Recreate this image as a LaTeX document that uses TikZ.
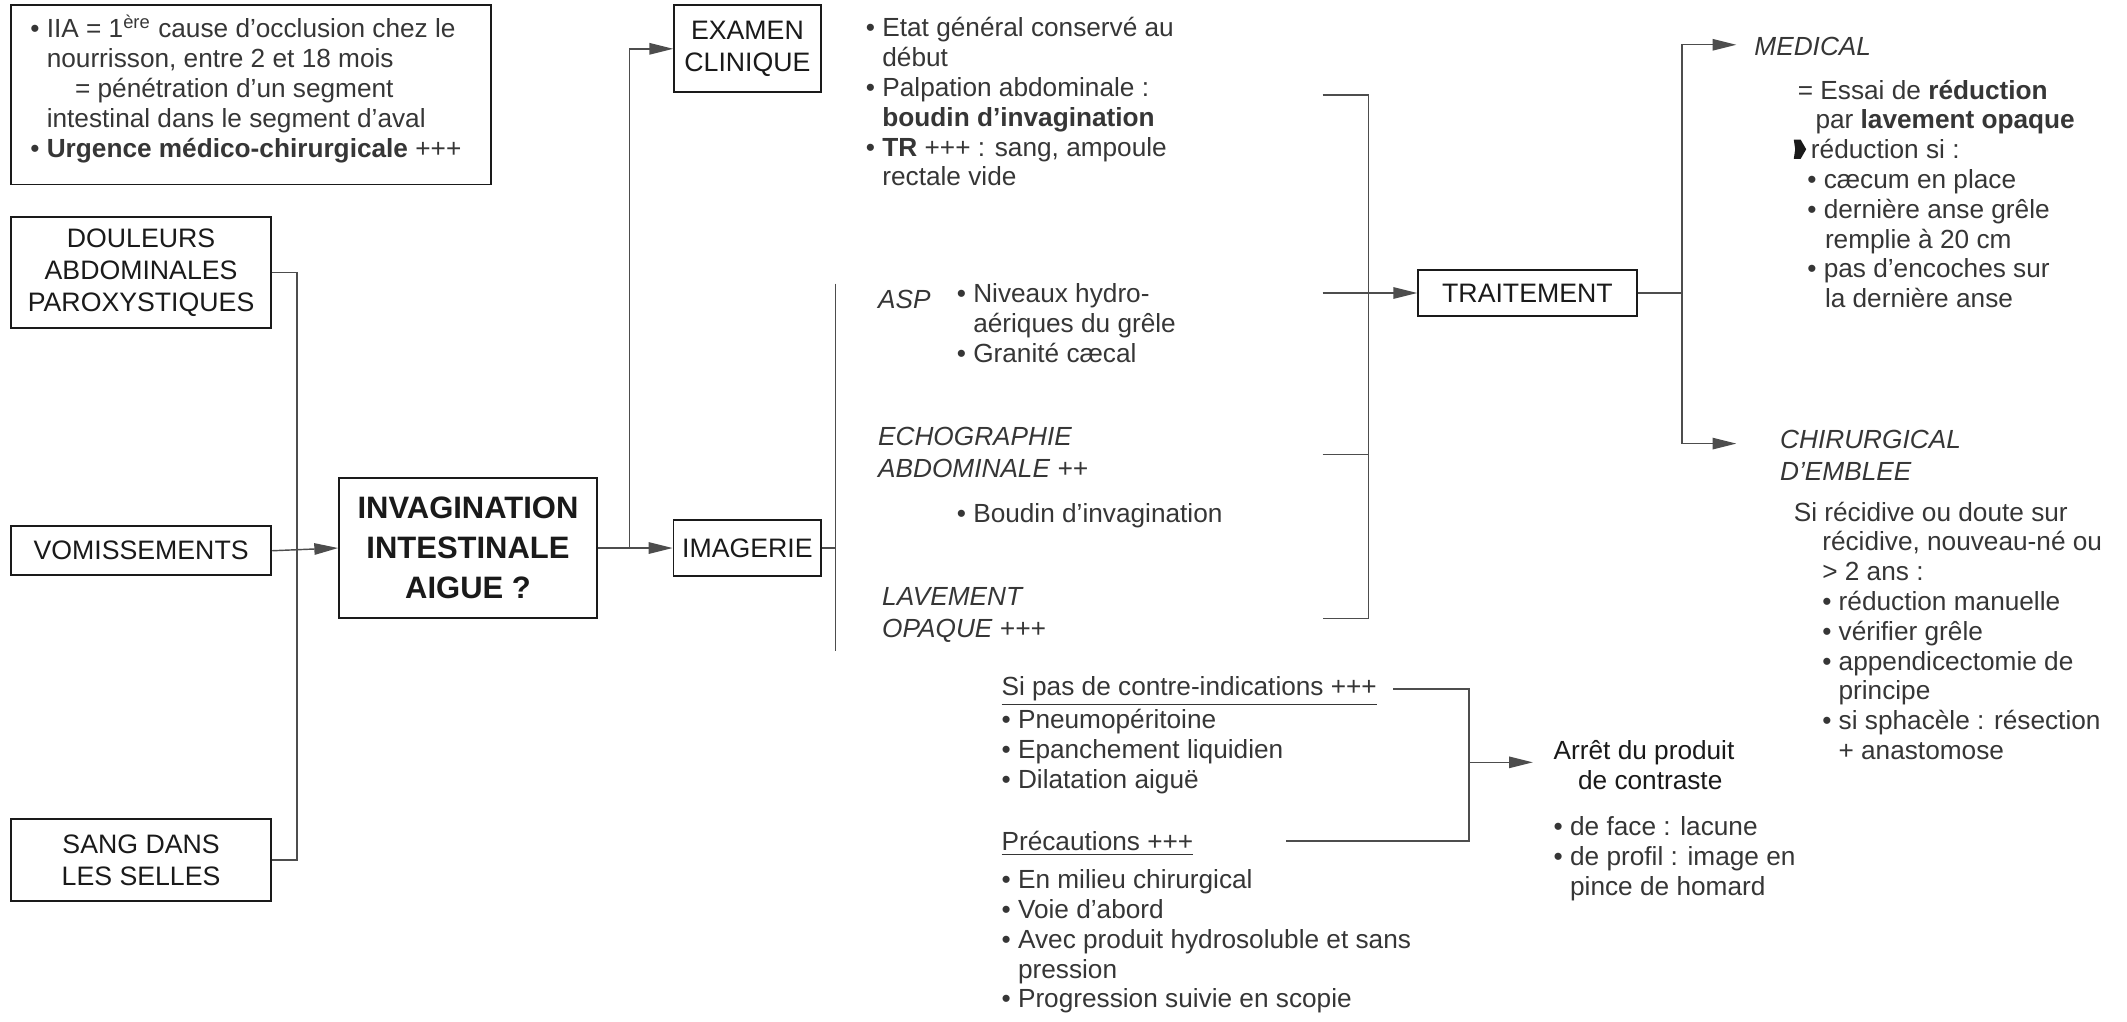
\documentclass[tikz,border=0pt]{standalone}
\usepackage{fontspec}
\setmainfont{Liberation Sans}
\usetikzlibrary{arrows.meta}
\definecolor{txtc}{HTML}{363636}
\definecolor{labc}{HTML}{1A1A1A}
\definecolor{linec}{HTML}{4D4D4D}
\newcommand\bodyfont{\fontsize{11}{12.5}\selectfont}
\newcommand\labfont{\fontsize{11.2}{13.3}\selectfont}
\newcommand\bigfont{\fontsize{13}{16.7}\selectfont\bfseries}
\newcommand\bul{\textbullet\ }
\newcommand\ind{\hphantom{\textbullet\ }}
\newcommand\hx[1]{\hspace*{\dimexpr0.02cm*#1\relax}}
% small black pointer used before "réduction si"
\newcommand\pointer{\tikz[x=1pt,y=1pt,baseline=0pt]\fill[labc] (0,0) -- (2.9,0) -- (5.2,4) -- (2.9,8) -- (0,8) -- (0.6,4) -- cycle;}

\begin{document}
\begin{tikzpicture}[x=0.02cm,y=-0.02cm,
  box/.style={draw=labc, line width=0.8pt, inner sep=0pt, align=center, font=\labfont, text=labc},
  txt/.style={anchor=north west, inner sep=0pt, align=left, font=\bodyfont, text=txtc,
              execute at begin node={\rule{0pt}{1em}}},
  conn/.style={draw=linec, line width=0.6pt},
  arr/.style={conn, -{Triangle[length=10pt, width=4.8pt]}},
]
\fill[white] (0,0) rectangle (1568,753);
\useasboundingbox (0,0) rectangle (1568,753);

% ---------- left column ----------
\node[box, minimum width=354*0.02cm, minimum height=132*0.02cm] (info) at (185,70) {};
\node[txt] (infot) at (22,10.6) {\bul IIA = 1\textsuperscript{ère} cause d’occlusion chez le\\
  \ind nourrisson, entre 2 et 18 mois\\
  \hx{33}= pénétration d’un segment\\
  \ind intestinal dans le segment d’aval\\
  \bul\textbf{Urgence médico-chirurgicale} +++};

\node[box, minimum width=192*0.02cm, minimum height=82*0.02cm] (doul) at (104,201)
  {DOULEURS\\ABDOMINALES\\PAROXYSTIQUES};
\node[box, minimum width=192*0.02cm, minimum height=36*0.02cm] (vom) at (104,406) {VOMISSEMENTS};
\node[box, minimum width=192*0.02cm, minimum height=61*0.02cm] (sang) at (104,634)
  {SANG DANS\\LES SELLES};
\node[box, font=\bigfont, minimum width=190*0.02cm, minimum height=103*0.02cm] (inv) at (345,404)
  {INVAGINATION\\INTESTINALE\\AIGUE ?};

\coordinate (jl) at (219,406);
\draw[conn] (doul.east) -| (jl);
\draw[conn] (sang.east) -| (jl);
\draw[arr] (vom.east) -- (inv.west);

% ---------- examen / imagerie ----------
\node[box, minimum width=108*0.02cm, minimum height=64*0.02cm] (exam) at (551,36) {EXAMEN\\CLINIQUE};
\node[box, minimum width=109*0.02cm, minimum height=41*0.02cm] (imag) at (551,404) {IMAGERIE};

\coordinate (jm) at (464,404);
\draw[arr] (inv.east) -- (imag.west);
\draw[arr] (jm) |- (exam.west);

\node[txt] (examt) at (638,12.6) {\bul Etat général conservé au\\
  \ind début\\
  \bul Palpation abdominale :\\
  \ind\textbf{boudin d’invagination}\\
  \bul\textbf{TR} +++ : sang, ampoule\\
  \ind rectale vide};

\coordinate (imtop) at (616,209);
\coordinate (imbot) at (616,480);
\draw[conn] (imag.east) -- (imag.east -| imtop);
\draw[conn] (imtop) -- (imbot);

\node[txt] (asp) at (647,207.6) {\textit{ASP}};
\node[txt] (aspl) at (705,208.6) {\bul Niveaux hydro-\\\ind aériques du grêle\\\bul Granité cæcal};
\node[txt] (echo) at (647,314.6) {\textit{ECHOGRAPHIE}\\[1pt]\textit{ABDOMINALE ++}};
\node[txt] (echol) at (705,365.6) {\bul Boudin d’invagination};
\node[txt] (lav) at (650,432.6) {\textit{LAVEMENT}\\[1pt]\textit{OPAQUE +++}};

% ---------- bracket towards TRAITEMENT ----------
\coordinate (b1) at (975,70);
\coordinate (b2) at (975,216);
\coordinate (b3) at (975,335);
\coordinate (b4) at (975,456);
\draw[conn] (b1) -- (1009,70) -- (1009,456) -- (b4);
\draw[conn] (b3) -- (1009,335);

\node[box, minimum width=161*0.02cm, minimum height=34*0.02cm] (trait) at (1126,216) {TRAITEMENT};
\draw[arr] (b2) -- (trait.west);

% ---------- treatment branches ----------
\coordinate (tj) at (1240,216);
\coordinate (ma) at (1280,33);
\coordinate (ca) at (1280,327);
\draw[conn] (trait.east) -- (tj);
\draw[arr] (tj) |- (ma);
\draw[arr] (tj) |- (ca);

\node[txt] (med) at (1293,21.6) {\textit{MEDICAL}};
\node[txt] (medt) at (1322,58.6) {\hx{3}= Essai de \textbf{réduction}\\
  \hx{16}par \textbf{lavement opaque}\\
  \pointer\hspace{2pt}réduction si :\\
  \hx{10}\bul cæcum en place\\
  \hx{10}\bul dernière anse grêle\\
  \hx{23}remplie à 20 cm\\
  \hx{10}\bul pas d’encoches sur\\
  \hx{23}la dernière anse};

\node[txt] (chir) at (1312,316.6) {\textit{CHIRURGICAL}\\[1pt]\textit{D’EMBLEE}};
\node[txt] (chirt) at (1322,369.6) {Si récidive ou doute sur\\
  \hx{21}récidive, nouveau-né ou\\
  \hx{21}> 2 ans :\\
  \hx{21}\bul réduction manuelle\\
  \hx{21}\bul vérifier grêle\\
  \hx{21}\bul appendicectomie de\\
  \hx{33}principe\\
  \hx{21}\bul si sphacèle : résection\\
  \hx{33}+ anastomose};

% ---------- opaque enema details ----------
\node[txt] (ci) at (738,498.6) {\underline{Si pas de contre-indications +++}\\[1.2pt]
  \bul Pneumopéritoine\\
  \bul Epanchement liquidien\\
  \bul Dilatation aiguë};
\node[txt] (prec) at (738,612.6) {\underline{Précautions +++}\\[3.4pt]
  \bul En milieu chirurgical\\
  \bul Voie d’abord\\
  \bul Avec produit hydrosoluble et sans\\
  \ind pression\\
  \bul Progression suivie en scopie};

\coordinate (c1) at (1027,508);
\coordinate (c2) at (948,620);
\coordinate (cj) at (1083,562);
\draw[conn] (c1) -- (1083,508) -- (1083,620) -- (c2);

\node[txt, text=labc] (arret) at (1145,545.6) {Arrêt du produit\\\hx{18}de contraste};
\draw[arr] (cj) -- ([xshift=-0.3cm]arret.west |- cj);
\node[txt] (arrett) at (1145,601.6) {\bul de face : lacune\\
  \bul de profil : image en\\
  \ind pince de homard};
\end{tikzpicture}
\end{document}
